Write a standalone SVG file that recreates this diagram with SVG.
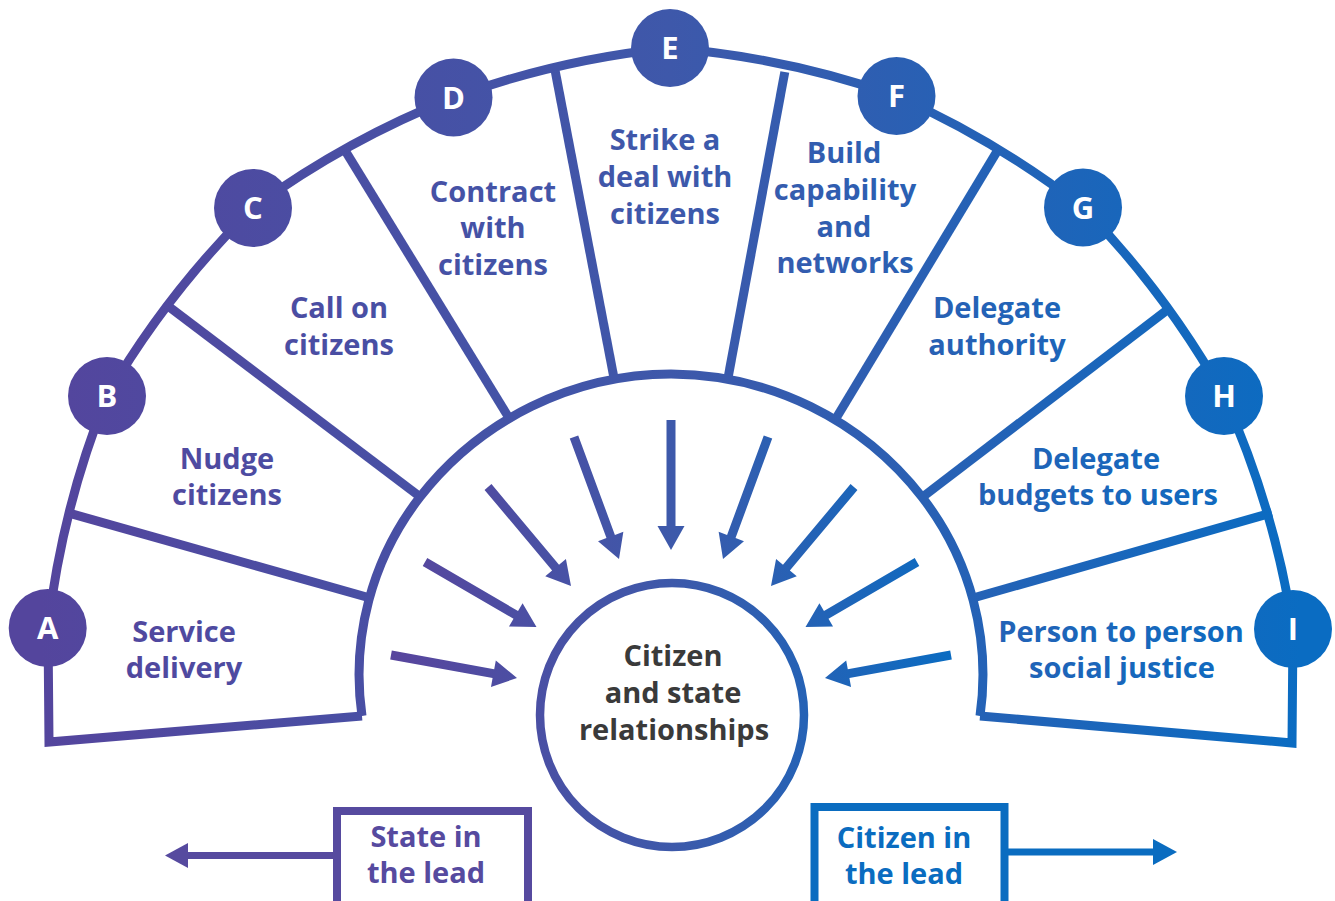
<svg xmlns="http://www.w3.org/2000/svg" width="1335" height="901" viewBox="0 0 1335 901">
<defs>
<linearGradient id="gOuter" gradientUnits="userSpaceOnUse" x1="40" y1="0" x2="1300" y2="0">
<stop offset="0" stop-color="#54459d"/>
<stop offset="0.5" stop-color="#3e58aa"/>
<stop offset="1" stop-color="#0a6cc2"/>
</linearGradient>
<linearGradient id="gInner" gradientUnits="userSpaceOnUse" x1="390" y1="0" x2="955" y2="0">
<stop offset="0" stop-color="#58459d"/>
<stop offset="0.5" stop-color="#3d59aa"/>
<stop offset="1" stop-color="#0a6cc2"/>
</linearGradient>
</defs>
<style>
.fr{fill:none;stroke:url(#gOuter);stroke-width:9;stroke-linejoin:miter}
.dv{stroke:url(#gOuter);stroke-width:9;stroke-linecap:butt}
.lt{fill:url(#gOuter);font-family:"Open Sans","Noto Sans","Liberation Sans",sans-serif;font-weight:700;font-size:29px;text-anchor:middle}
.ct{fill:#3a3a3a;font-family:"Open Sans","Noto Sans","Liberation Sans",sans-serif;font-weight:700;font-size:29px;text-anchor:middle}
.bc{fill:url(#gOuter)}
.bl{fill:#ffffff;font-family:"Open Sans","Noto Sans","Liberation Sans",sans-serif;font-weight:700;font-size:31px;text-anchor:middle}
.ar{fill:url(#gInner)}
.st{fill:#564a9f;font-family:"Open Sans","Noto Sans","Liberation Sans",sans-serif;font-weight:700;font-size:29px;text-anchor:middle}
.cz{fill:#0a6cc0;font-family:"Open Sans","Noto Sans","Liberation Sans",sans-serif;font-weight:700;font-size:29px;text-anchor:middle}
</style>
<rect width="1335" height="901" fill="#ffffff"/>
<g id="frame">
<path class="fr" d="M 362,716 L 49,742 L 48,628 A 900 900 0 0 1 107,396 A 900 900 0 0 1 253,208 A 900 900 0 0 1 453.5,97.5 A 900 900 0 0 1 670,48 A 900 900 0 0 1 896.5,96 A 900 900 0 0 1 1083,207.5 A 900 900 0 0 1 1224,396 A 900 900 0 0 1 1293,629 L 1292,743 L 980,716"/>
<path class="fr" d="M 362,716 A 290 290 0 0 1 420,497 A 319 319 0 0 1 671,374 A 319 319 0 0 1 922,497 A 290 290 0 0 1 980,716"/>
<line class="dv" x1="68.2" y1="512.9" x2="370" y2="598"/>
<line class="dv" x1="168.8" y1="306.6" x2="423" y2="499"/>
<line class="dv" x1="343.9" y1="148.6" x2="509" y2="418"/>
<line class="dv" x1="555.2" y1="71.1" x2="614" y2="378"/>
<line class="dv" x1="784.8" y1="72" x2="728" y2="378"/>
<line class="dv" x1="998.1" y1="149.6" x2="835" y2="420"/>
<line class="dv" x1="1170.2" y1="307.6" x2="920" y2="499"/>
<line class="dv" x1="1271.8" y1="512.9" x2="973" y2="598"/>
</g>
<g id="node-A"><circle class="bc" cx="47.7" cy="628" r="39"/><text class="bl" x="47.7" y="639">A</text></g>
<g id="node-B"><circle class="bc" cx="107" cy="396" r="39"/><text class="bl" x="107" y="407">B</text></g>
<g id="node-C"><circle class="bc" cx="253" cy="208" r="39"/><text class="bl" x="253" y="219">C</text></g>
<g id="node-D"><circle class="bc" cx="453.5" cy="97.5" r="39"/><text class="bl" x="453.5" y="108.5">D</text></g>
<g id="node-E"><circle class="bc" cx="670" cy="48" r="39"/><text class="bl" x="670" y="59">E</text></g>
<g id="node-F"><circle class="bc" cx="896.5" cy="96" r="39"/><text class="bl" x="896.5" y="107">F</text></g>
<g id="node-G"><circle class="bc" cx="1083" cy="207.5" r="39"/><text class="bl" x="1083" y="218.5">G</text></g>
<g id="node-H"><circle class="bc" cx="1224" cy="396" r="39"/><text class="bl" x="1224" y="407">H</text></g>
<g id="node-I"><circle class="bc" cx="1293" cy="629" r="39"/><text class="bl" x="1293" y="640">I</text></g>
<g id="label-A"><text class="lt" x="184" y="642">Service</text><text class="lt" x="184" y="678">delivery</text></g>
<g id="label-B"><text class="lt" x="227" y="469">Nudge</text><text class="lt" x="227" y="505">citizens</text></g>
<g id="label-C"><text class="lt" x="339" y="318">Call on</text><text class="lt" x="339" y="355">citizens</text></g>
<g id="label-D"><text class="lt" x="493" y="202">Contract</text><text class="lt" x="493" y="238">with</text><text class="lt" x="493" y="275">citizens</text></g>
<g id="label-E"><text class="lt" x="665" y="150">Strike a</text><text class="lt" x="665" y="187">deal with</text><text class="lt" x="665" y="224">citizens</text></g>
<g id="label-F"><text class="lt" x="844" y="163">Build</text><text class="lt" x="845" y="200">capability</text><text class="lt" x="844" y="237">and</text><text class="lt" x="845" y="273">networks</text></g>
<g id="label-G"><text class="lt" x="997" y="318">Delegate</text><text class="lt" x="997" y="355">authority</text></g>
<g id="label-H"><text class="lt" x="1096" y="469">Delegate</text><text class="lt" x="1098" y="505">budgets to users</text></g>
<g id="label-I"><text class="lt" x="1121" y="642">Person to person</text><text class="lt" x="1122" y="678">social justice</text></g>
<g id="center">
<circle cx="672" cy="715" r="132" fill="#ffffff" stroke="url(#gInner)" stroke-width="8.5"/>
<text class="ct" x="673" y="666">Citizen</text><text class="ct" x="673" y="703">and state</text><text class="ct" x="674" y="740">relationships</text>
</g>
<g id="box-state">
<rect x="337" y="811" width="191" height="100" fill="none" stroke="#564a9f" stroke-width="8"/>
<text class="st" x="426" y="847">State in</text><text class="st" x="426" y="883">the lead</text>
</g>
<g id="box-citizen">
<rect x="814.5" y="807" width="190" height="104" fill="none" stroke="#0a6cc0" stroke-width="8"/>
<text class="cz" x="904" y="848">Citizen in</text><text class="cz" x="904" y="884">the lead</text>
</g>
<g id="connectors">
<polygon class="ar" points="390.19,659.43 492.58,678.12 490.97,686.97 517,678 495.82,660.41 494.20,669.26 391.81,650.57"/>
<polygon class="ar" points="422.73,565.89 513.50,618.80 508.97,626.57 536.5,627 522.57,603.25 518.04,611.02 427.27,558.11"/>
<polygon class="ar" points="484.55,489.89 552.13,570.50 545.24,576.28 571,586 565.93,558.94 559.03,564.72 491.45,484.11"/>
<polygon class="ar" points="569.78,438.56 606.47,538.04 598.03,541.15 619,559 623.36,531.81 614.92,534.92 578.22,435.44"/>
<polygon class="ar" points="666.5,420 666.5,526 657.5,526 671,550 684.5,526 675.5,526 675.5,420"/>
<polygon class="ar" points="772.22,438.56 735.53,538.04 743.97,541.15 723,559 718.64,531.81 727.08,534.92 763.78,435.44"/>
<polygon class="ar" points="857.45,489.89 789.87,570.50 796.76,576.28 771,586 776.07,558.94 782.97,564.72 850.55,484.11"/>
<polygon class="ar" points="919.27,565.89 828.50,618.80 833.03,626.57 805.5,627 819.43,603.25 823.96,611.02 914.73,558.11"/>
<polygon class="ar" points="951.81,659.43 849.42,678.12 851.03,686.97 825,678 846.18,660.41 847.80,669.26 950.19,650.57"/>
<line x1="333" y1="855.5" x2="186" y2="855.5" stroke="#564a9f" stroke-width="7"/>
<polygon fill="#564a9f" points="188,843 165,855.5 188,868"/>
<line x1="1008" y1="852" x2="1155" y2="852" stroke="#0a6cc0" stroke-width="7"/>
<polygon fill="#0a6cc0" points="1153,839 1177,852 1153,865"/>
</g>
</svg>
